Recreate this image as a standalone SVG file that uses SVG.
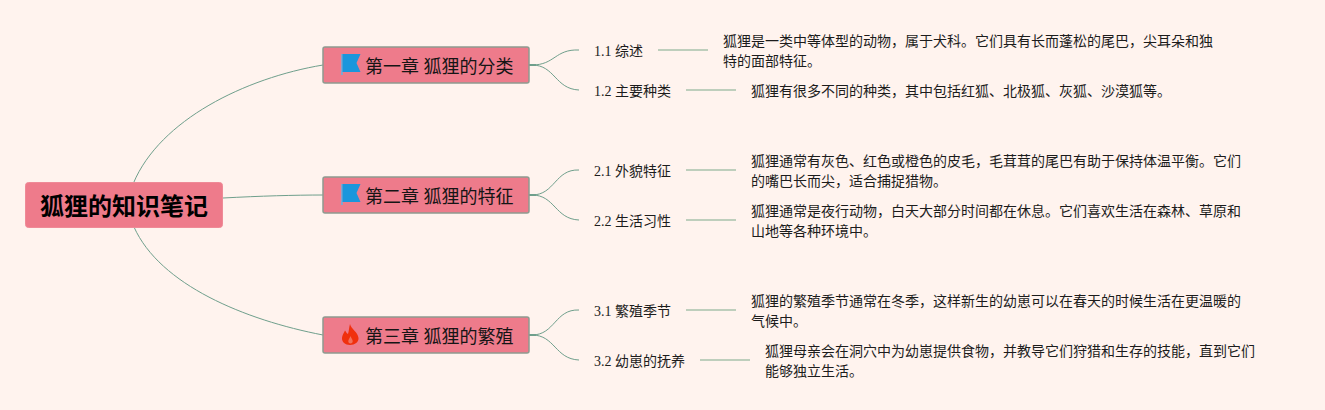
<svg xmlns="http://www.w3.org/2000/svg" width="1325" height="410" viewBox="0 0 1325 410">
<defs>
<style>
text{font-family:"Liberation Serif","Noto Sans CJK SC",serif;fill:#1c1c1c}
.root{font-size:24px;font-weight:700;fill:#000}
.ch{font-size:18px;fill:#151515}
.s{font-size:14px}
.d{font-size:14px}
.rb{fill:#ee7b8b;stroke:#ef8a97;stroke-width:1}
.cb{fill:#ee7b8b;stroke:#8f9a90;stroke-width:1.5}
.c{fill:none;stroke:#6f9f8c;stroke-width:1}
.st{fill:none;stroke:#6f9f8c;stroke-width:2}
.l{fill:none;stroke:#a9c2ab;stroke-width:1.6}
</style>
<g id="flag"><path d="M1 0V21" stroke="#6bb0de" stroke-width="1.6" fill="none"/><path d="M1.500 0H19.500L15.500 9L19.500 18H1.500Z" fill="#1a96dc"/></g>
</defs>
<rect width="1325" height="410" fill="#fff3ee"/>
<g id="connectors">
<path class="c" d="M133.500 183C160 120 245 78 323 65"/>
<path class="c" d="M223 198C260 196 295 195 323 195"/>
<path class="c" d="M134 227C160 285 245 320 323 335"/>
<path class="st" d="M529 65H536"/>
<path class="st" d="M529 195H536"/>
<path class="st" d="M529 335H536"/>
<path class="c" d="M532 65C555 65 555 49 579 50"/>
<path class="c" d="M532 65C555 65 555 89 579 90"/>
<path class="c" d="M532 195C555 195 555 169 579 170"/>
<path class="c" d="M532 195C555 195 555 219 579 220"/>
<path class="c" d="M532 335C555 335 555 309 579 310"/>
<path class="c" d="M532 335C555 335 555 359 579 360"/>
<path class="l" d="M658 50H708"/>
<path class="l" d="M686 90H736"/>
<path class="l" d="M686 170H736"/>
<path class="l" d="M686 220H736"/>
<path class="l" d="M686 310H736"/>
<path class="l" d="M700 360H750"/>
</g>
<g id="root"><rect class="rb" x="25.500" y="182.500" width="197" height="45" rx="3"/><text class="root" x="40" y="215">狐狸的知识笔记</text></g>
<g id="ch1"><rect class="cb" x="323" y="47" width="206" height="36" rx="2"/><use href="#flag" x="341" y="54"/><text class="ch" x="365" y="73">第一章 狐狸的分类</text></g>
<g id="ch2"><rect class="cb" x="323" y="177" width="206" height="36" rx="2"/><use href="#flag" x="341" y="184"/><text class="ch" x="365" y="203">第二章 狐狸的特征</text></g>
<g id="ch3"><rect class="cb" x="323" y="317" width="206" height="36" rx="2"/><path d="M350 324C351 329 358 332 358.500 338C358.800 342 355 345 350 345C345 345 341.800 342 342 338C342.200 335 344 333 345 330.500C346 332 347 333.500 348 334C349 331 349 327 350 324Z" fill="#f0300e"/><path d="M350.500 336C350 338 348.500 339 348.300 341C348.200 342.500 349 343.500 350.500 343.500C352 343.500 352.800 342.500 352.700 341C352.500 339 351 338 350.500 336Z" fill="#f2705c"/><text class="ch" x="365" y="343">第三章 狐狸的繁殖</text></g>
<g id="s11"><text class="s" x="594" y="56">1.1 综述</text></g>
<g id="s12"><text class="s" x="594" y="96">1.2 主要种类</text></g>
<g id="s21"><text class="s" x="594" y="176">2.1 外貌特征</text></g>
<g id="s22"><text class="s" x="594" y="226">2.2 生活习性</text></g>
<g id="s31"><text class="s" x="594" y="316">3.1 繁殖季节</text></g>
<g id="s32"><text class="s" x="594" y="366">3.2 幼崽的抚养</text></g>
<g id="d11"><text class="d" x="723" y="46">狐狸是一类中等体型的动物，属于犬科。它们具有长而蓬松的尾巴，尖耳朵和独</text><text class="d" x="723" y="66">特的面部特征。</text></g>
<g id="d12"><text class="d" x="751" y="96">狐狸有很多不同的种类，其中包括红狐、北极狐、灰狐、沙漠狐等。</text></g>
<g id="d21"><text class="d" x="751" y="166">狐狸通常有灰色、红色或橙色的皮毛，毛茸茸的尾巴有助于保持体温平衡。它们</text><text class="d" x="751" y="186">的嘴巴长而尖，适合捕捉猎物。</text></g>
<g id="d22"><text class="d" x="751" y="216">狐狸通常是夜行动物，白天大部分时间都在休息。它们喜欢生活在森林、草原和</text><text class="d" x="751" y="236">山地等各种环境中。</text></g>
<g id="d31"><text class="d" x="751" y="306">狐狸的繁殖季节通常在冬季，这样新生的幼崽可以在春天的时候生活在更温暖的</text><text class="d" x="751" y="326">气候中。</text></g>
<g id="d32"><text class="d" x="765" y="356">狐狸母亲会在洞穴中为幼崽提供食物，并教导它们狩猎和生存的技能，直到它们</text><text class="d" x="765" y="376">能够独立生活。</text></g>
</svg>
